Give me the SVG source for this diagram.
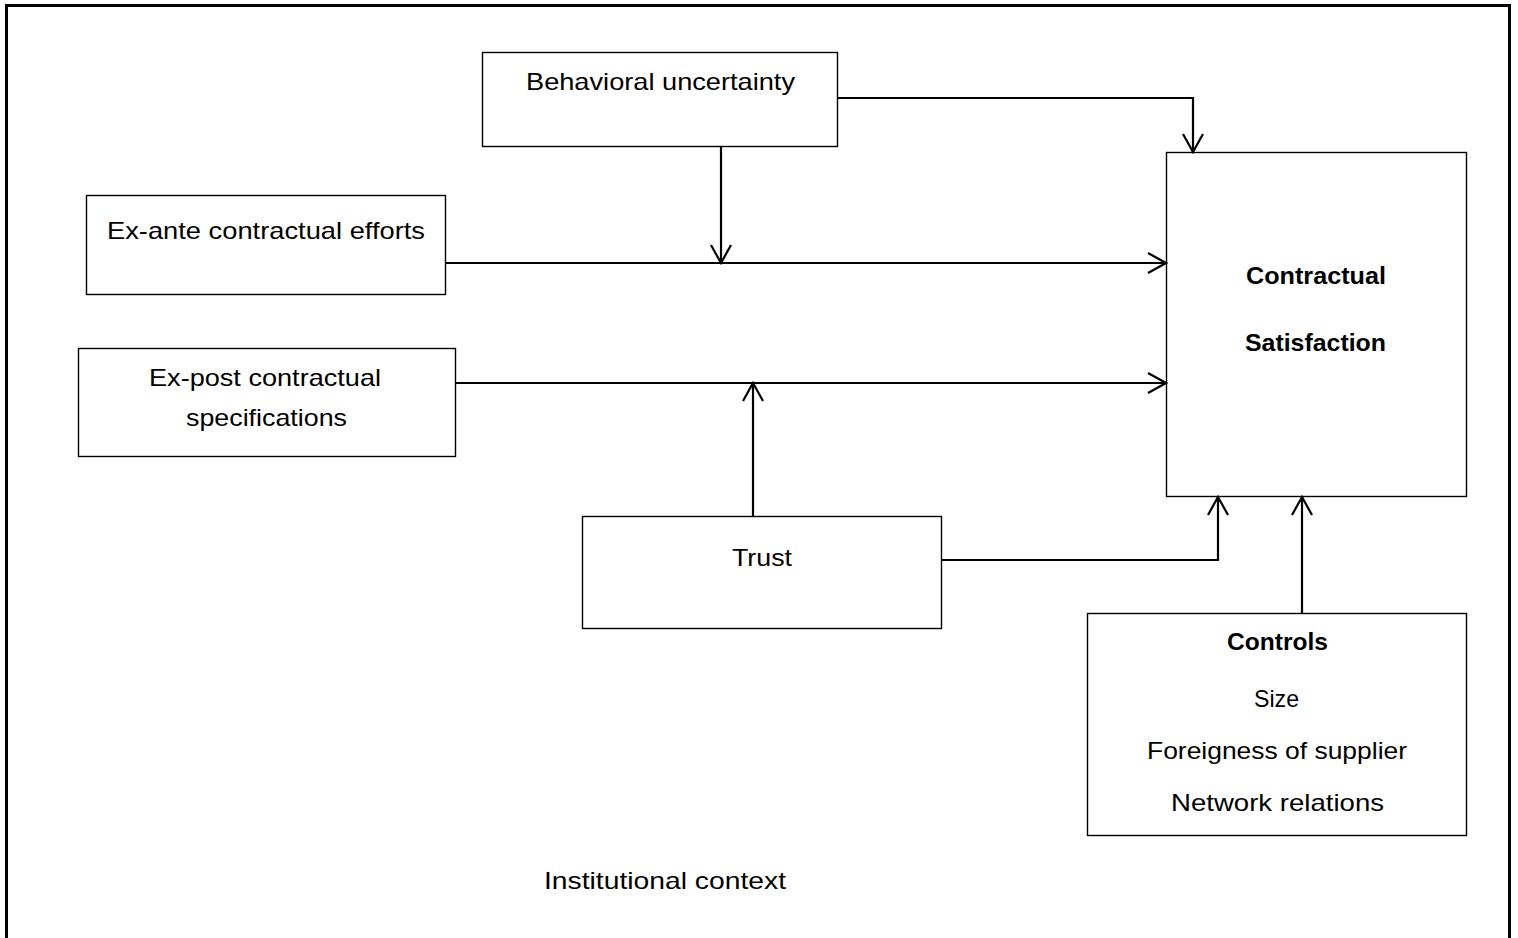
<svg xmlns="http://www.w3.org/2000/svg" width="1518" height="938" viewBox="0 0 1518 938">
  <style>
    .box { fill: #ffffff; stroke: #000000; stroke-width: 1.4; }
    .frame { fill: none; stroke: #000000; stroke-width: 3; }
    .lbl { font-family: "Liberation Sans", Arial, sans-serif; font-size: 24px; fill: #000000; }
    .bold { font-weight: bold; }
    .wire { fill: none; stroke: #000000; stroke-width: 2.2; }
  </style>
  <defs>
    <marker id="vhead" viewBox="0 0 22 24" refX="20" refY="12" markerWidth="22" markerHeight="24" markerUnits="userSpaceOnUse" orient="auto">
      <path d="M2,2 L20,12 L2,22" fill="none" stroke="#000000" stroke-width="2.2"/>
    </marker>
  </defs>

  <rect width="1518" height="938" fill="#ffffff"/>

  <!-- outer institutional-context frame (bottom edge runs off the page) -->
  <path class="frame" d="M6.5,945 V5.5 H1509.5 V945"/>
  <text class="lbl" x="544" y="889" textLength="242" lengthAdjust="spacingAndGlyphs">Institutional context</text>

  <g id="behavioral-uncertainty">
    <rect class="box" x="482.5" y="52.5" width="355" height="94"/>
    <text class="lbl" x="526" y="90" textLength="269" lengthAdjust="spacingAndGlyphs">Behavioral uncertainty</text>
  </g>

  <g id="ex-ante">
    <rect class="box" x="86.5" y="195.5" width="359" height="99"/>
    <text class="lbl" x="107" y="239" textLength="318" lengthAdjust="spacingAndGlyphs">Ex-ante contractual efforts</text>
  </g>

  <g id="ex-post">
    <rect class="box" x="78.5" y="348.5" width="377" height="108"/>
    <text class="lbl" x="149" y="386" textLength="232" lengthAdjust="spacingAndGlyphs">Ex-post contractual</text>
    <text class="lbl" x="186" y="426" textLength="161" lengthAdjust="spacingAndGlyphs">specifications</text>
  </g>

  <g id="trust">
    <rect class="box" x="582.5" y="516.5" width="359" height="112"/>
    <text class="lbl" x="732" y="566" textLength="60" lengthAdjust="spacingAndGlyphs">Trust</text>
  </g>

  <g id="contractual-satisfaction">
    <rect class="box" x="1166.5" y="152.5" width="300" height="344"/>
    <text class="lbl bold" x="1246" y="284" textLength="140" lengthAdjust="spacingAndGlyphs">Contractual</text>
    <text class="lbl bold" x="1245" y="351" textLength="141" lengthAdjust="spacingAndGlyphs">Satisfaction</text>
  </g>

  <g id="controls">
    <rect class="box" x="1087.5" y="613.5" width="379" height="222"/>
    <text class="lbl bold" x="1227" y="650" textLength="101" lengthAdjust="spacingAndGlyphs">Controls</text>
    <text class="lbl" x="1254" y="707" textLength="45" lengthAdjust="spacingAndGlyphs">Size</text>
    <text class="lbl" x="1147" y="759" textLength="260" lengthAdjust="spacingAndGlyphs">Foreigness of supplier</text>
    <text class="lbl" x="1171" y="811" textLength="213" lengthAdjust="spacingAndGlyphs">Network relations</text>
  </g>

  <g id="connectors">
    <!-- behavioral uncertainty -> satisfaction -->
    <path class="wire" d="M838,98 H1193 V152" marker-end="url(#vhead)"/>
    <!-- behavioral uncertainty moderates ex-ante path -->
    <path class="wire" d="M721,147 V263" marker-end="url(#vhead)"/>
    <!-- ex-ante -> satisfaction -->
    <path class="wire" d="M446,263 H1166" marker-end="url(#vhead)"/>
    <!-- ex-post -> satisfaction -->
    <path class="wire" d="M456,383 H1166" marker-end="url(#vhead)"/>
    <!-- trust moderates ex-post path -->
    <path class="wire" d="M753,516 V383" marker-end="url(#vhead)"/>
    <!-- trust -> satisfaction -->
    <path class="wire" d="M942,560 H1218 V497" marker-end="url(#vhead)"/>
    <!-- controls -> satisfaction -->
    <path class="wire" d="M1302,613 V497" marker-end="url(#vhead)"/>
  </g>
</svg>
